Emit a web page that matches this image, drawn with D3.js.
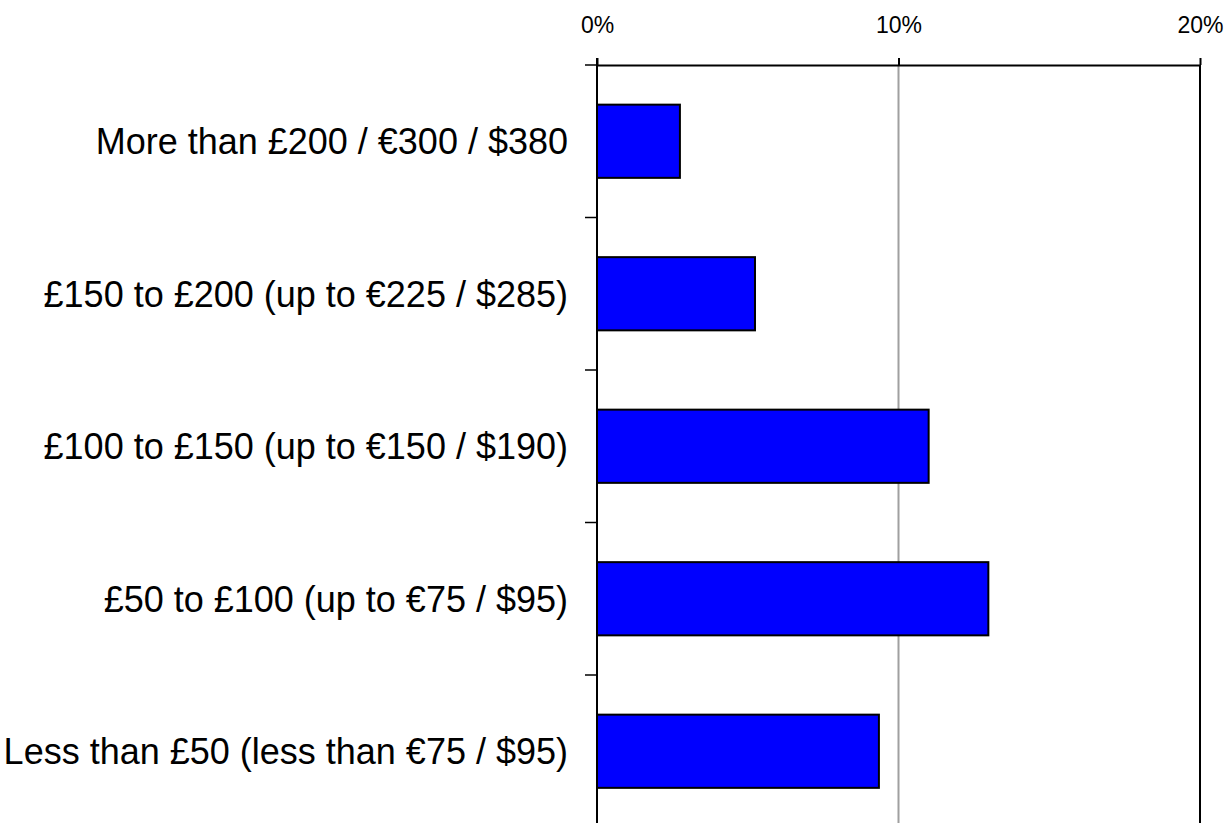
<!DOCTYPE html>
<html>
<head>
<meta charset="utf-8">
<script src="https://cdn.jsdelivr.net/npm/d3@7"></script>
<style>
  html, body { margin: 0; padding: 0; background: #fff; }
  svg { display: block; }
  text { font-family: "Liberation Sans", Arial, sans-serif; fill: #000; }
</style>
</head>
<body>
<svg id="chart" width="1226" height="823"></svg>
<script>
const categories = [
  "More than £200 / €300 / $380",
  "£150 to £200 (up to €225 / $285)",
  "£100 to £150 (up to €150 / $190)",
  "£50 to £100 (up to €75 / $95)",
  "Less than £50 (less than €75 / $95)"
];
const values = [2.75, 5.24, 11.0, 12.98, 9.35];
const tickValues = [0, 10, 20];
const tickLabels = ["0%", "10%", "20%"];

(function () {
const svg = d3.select("#chart");
const mLeft = 597, mRight = 1200, mTop = 65, mBottom = 827.5;

const x = d3.scaleLinear().domain([0, 20]).range([mLeft, mRight]);
const y = d3.scaleBand().domain(categories).range([mTop, mBottom])
  .paddingInner(0.52).paddingOuter(0.26);

// gridlines
svg.append("g").selectAll("line").data(tickValues.slice(1)).join("line")
  .attr("x1", d => x(d)).attr("x2", d => x(d))
  .attr("y1", mTop).attr("y2", 823)
  .attr("stroke", d => d === 20 ? "#000" : "#a0a0a0")
  .attr("stroke-width", 2);

// bars
svg.append("g").selectAll("rect").data(categories).join("rect")
  .attr("x", x(0))
  .attr("y", d => y(d))
  .attr("width", (d, i) => x(values[i]) - x(0))
  .attr("height", y.bandwidth())
  .attr("fill", "#0000ff")
  .attr("stroke", "#000")
  .attr("stroke-width", 2);

// top axis
const xAxis = d3.axisTop(x).tickValues(tickValues)
  .tickFormat((d, i) => tickLabels[i]).tickSize(7).tickSizeOuter(0);
const gx = svg.append("g").attr("transform", `translate(0,${mTop})`).call(xAxis);
gx.select(".domain").attr("stroke", "#000").attr("stroke-width", 2);
gx.selectAll(".tick line").attr("stroke", "#000").attr("stroke-width", 2);
gx.selectAll(".tick text").attr("font-size", 23)
  .attr("font-family", "'Liberation Sans', Arial, sans-serif")
  .attr("fill", "#000").attr("y", -32).attr("dy", 0);

// left axis line
svg.append("line").attr("x1", mLeft).attr("x2", mLeft)
  .attr("y1", mTop - 7).attr("y2", 823)
  .attr("stroke", "#000").attr("stroke-width", 2);

// left boundary ticks
const gap = (y.step() - y.bandwidth()) / 2;
svg.append("g").selectAll("line").data(categories).join("line")
  .attr("x1", mLeft - 12).attr("x2", mLeft)
  .attr("y1", d => y(d) - gap).attr("y2", d => y(d) - gap)
  .attr("stroke", "#000").attr("stroke-width", 1.5);

// category labels
svg.append("g").selectAll("text").data(categories).join("text")
  .attr("x", mLeft - 29)
  .attr("y", d => y(d) + y.bandwidth() / 2)
  .attr("dy", "0.36em")
  .attr("text-anchor", "end")
  .attr("font-size", 36)
  .text(d => d);
})();
</script>
</body>
</html>
